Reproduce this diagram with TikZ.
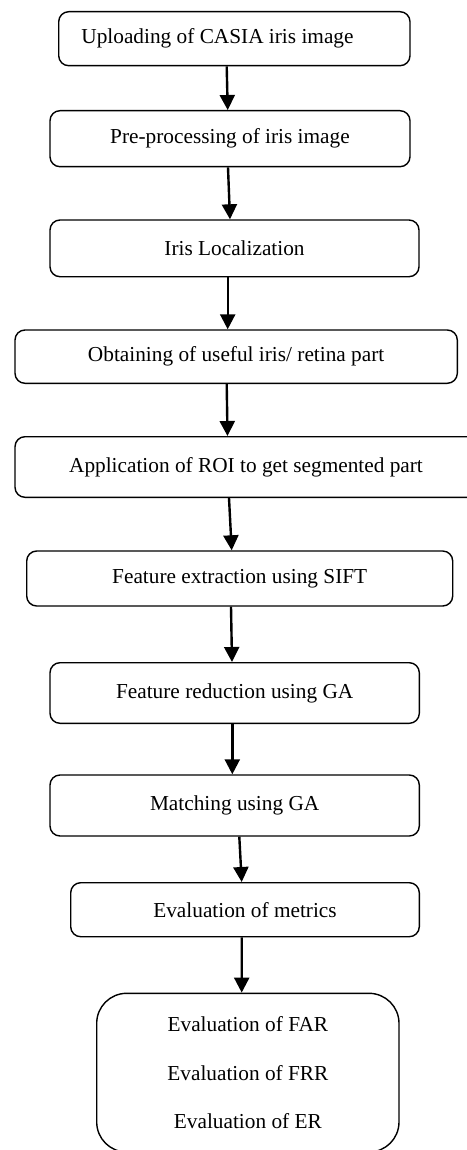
\documentclass[tikz,border=0pt]{standalone}
\usepackage{fontspec}
\setmainfont{Liberation Serif}
\usetikzlibrary{arrows.meta}
\begin{document}
\begin{tikzpicture}[x=1pt,y=-1pt,
  box/.style={draw, line width=1.4pt, rounded corners=10pt, inner sep=0pt,
    font=\fontsize{21.3}{25}\selectfont},
  bigbox/.style={box, rounded corners=30pt, align=center},
  arr/.style={line width=2.4pt, -{Triangle[length=15pt,width=15pt]}}]
\useasboundingbox (0,0) rectangle (466,1150);
\node[box, minimum width=351.3pt, minimum height=54pt] (b1) at (234.35,38.7) {Uploading of CASIA iris image\hspace*{33.7pt}};
\node[box, minimum width=360pt, minimum height=56pt] (b2) at (230,138.7) {Pre-processing of iris image};
\node[box, minimum width=369pt, minimum height=56.7pt] (b3) at (234.5,248.35) {Iris Localization};
\node[box, minimum width=442.3pt, minimum height=53.3pt] (b4) at (236.15,356.65) {Obtaining of useful iris/ retina part};
\node[box, minimum width=462pt, minimum height=60.6pt] (b5) at (246,467) {Application of ROI to get segmented part};
\node[box, minimum width=426pt, minimum height=55pt] (b6) at (239.7,578.5) {Feature extraction using SIFT};
\node[box, minimum width=369.3pt, minimum height=60.6pt] (b7) at (234.65,693) {Feature reduction using GA};
\node[box, minimum width=369.3pt, minimum height=61pt] (b8) at (234.65,805.5) {Matching using GA};
\node[box, minimum width=348.6pt, minimum height=54pt] (b9) at (245,909.7) {Evaluation of metrics};
\node[bigbox, minimum width=302.3pt, minimum height=158.7pt] (b10) at (247.85,1072.65) {Evaluation of FAR\\[23.4pt]Evaluation of FRR\\[23.4pt]Evaluation of ER};
\draw[arr] ([xshift=-7.65pt]b1.south) -- ([xshift=-2.3pt]b2.north);
\draw[arr] ([xshift=-2pt]b2.south) -- ([xshift=-4.5pt]b3.north);
\draw[arr] ([xshift=-6.8pt]b3.south) -- ([xshift=-8.45pt]b4.north);
\draw[arr] ([xshift=-9.45pt]b4.south) -- ([xshift=-18.5pt]b5.north);
\draw[arr] ([xshift=-17pt]b5.south) -- ([xshift=-8pt]b6.north);
\draw[arr] ([xshift=-8.7pt]b6.south) -- ([xshift=-2.65pt]b7.north);
\draw[arr] ([xshift=-2.35pt]b7.south) -- ([xshift=-2.35pt]b8.north);
\draw[arr] ([xshift=4.65pt]b8.south) -- ([xshift=-3.3pt]b9.north);
\draw[arr] ([xshift=-3.3pt]b9.south) -- ([xshift=-6.15pt]b10.north);
\end{tikzpicture}
\end{document}
